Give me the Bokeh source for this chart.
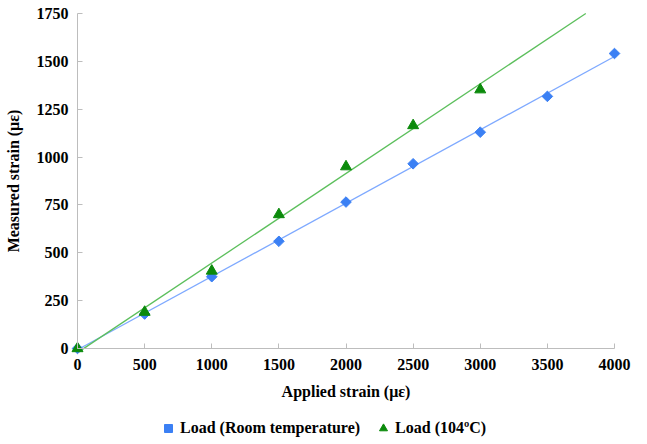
import numpy as np
from bokeh.plotting import figure
from bokeh.models import Legend, LegendItem, FixedTicker
from bokeh.embed import file_html
from bokeh.resources import INLINE

# Data
room_x = [0, 500, 1000, 1500, 2000, 2500, 3000, 3500, 4000]
room_y = [0, 180, 375, 560, 765, 965, 1130, 1317, 1541]
hot_x = [0, 500, 1000, 1500, 2000, 2500, 3000]
hot_y = [0, 190, 405, 700, 950, 1165, 1352]
x_ticks = [0, 500, 1000, 1500, 2000, 2500, 3000, 3500, 4000]
y_ticks = [0, 250, 500, 750, 1000, 1250, 1500, 1750]

FONT = "Liberation Serif"
BLUE = "#3b80f4"
BLUE_LINE = "#7ea9ff"
GREEN = "#0b8a0b"
GREEN_LINE = "#5cbf5c"

X_MAX, Y_MAX = 4000, 1750
W, H = 631, 444
# layout (pixels inside the figure): plot area where data live
PX_LEFT, PX_RIGHT = 77, 614     # x = 0 and x = 4000
PX_TOP, PX_BOTTOM = 13, 348     # y = 1750 and y = 0
xs = X_MAX / (PX_RIGHT - PX_LEFT)
ys = Y_MAX / (PX_BOTTOM - PX_TOP)
x_range = (-PX_LEFT * xs, X_MAX + (W - PX_RIGHT) * xs)
y_range = (-(H - PX_BOTTOM) * ys, Y_MAX + PX_TOP * ys)

p = figure(frame_width=W, frame_height=H, x_range=x_range, y_range=y_range,
           output_backend="svg", toolbar_location=None,
           min_border_left=0, min_border_top=0, min_border_right=0, min_border_bottom=0)
p.outline_line_color = None
p.xgrid.visible = False
p.ygrid.visible = False

# trend lines (linear fits computed from the data)
rs, ri = np.polyfit(room_x, room_y, 1)
hs, hi = np.polyfit(hot_x, hot_y, 1)
x_end_hot = (Y_MAX - hi) / hs
p.line([0, X_MAX], [ri, ri + rs * X_MAX], line_color=BLUE_LINE, line_width=1.3)
p.line([0, x_end_hot], [hi, Y_MAX], line_color=GREEN_LINE, line_width=1.3)

r1 = p.scatter(room_x, room_y, marker="square", angle=np.pi / 4, size=7.5,
               fill_color=BLUE, line_color=BLUE)
r2 = p.scatter(hot_x, hot_y, marker="triangle", size=11, fill_color=GREEN, line_color=GREEN)

for ax in (p.xaxis[0], p.yaxis[0]):
    ax.axis_line_color = "#bdbdbd"
    ax.major_tick_line_color = "#bdbdbd"
    ax.major_tick_in = 5
    ax.major_tick_out = 0
    ax.minor_tick_line_color = None
    ax.major_label_text_font = FONT
    ax.major_label_text_font_style = "bold"
    ax.major_label_text_font_size = "16px"
    ax.major_label_text_color = "black"
    ax.axis_label_text_font = FONT
    ax.axis_label_text_font_style = "bold"
    ax.axis_label_text_font_size = "16px"
    ax.axis_label_text_color = "black"

p.xaxis.ticker = FixedTicker(ticks=x_ticks)
p.yaxis.ticker = FixedTicker(ticks=y_ticks)
p.xaxis.bounds = (0, X_MAX)
p.yaxis.bounds = (0, Y_MAX)
p.xaxis.fixed_location = 0
p.yaxis.fixed_location = 0
p.xaxis.axis_label = "Applied strain (\u03bc\u03b5)"
p.yaxis.axis_label = "Measured strain (\u03bc\u03b5)"
p.xaxis.major_label_standoff = 10
p.xaxis.axis_label_standoff = 10
p.yaxis.major_label_standoff = 9
p.yaxis.axis_label_standoff = 12

legend = Legend(items=[LegendItem(label="Load (Room temperature)", renderers=[r1]),
                       LegendItem(label="Load (104\u00baC)", renderers=[r2])],
                orientation="horizontal", location=(158, 6))
legend.label_text_font = FONT
legend.label_text_font_style = "bold"
legend.label_text_font_size = "16px"
legend.label_text_color = "black"
legend.border_line_color = None
legend.background_fill_alpha = 0
legend.glyph_width = 20
legend.glyph_height = 20
legend.label_height = 16
legend.label_standoff = 2
legend.spacing = 13
legend.padding = 0
legend.margin = 0
p.add_layout(legend)

open("out.html", "w").write(file_html(p, INLINE))
